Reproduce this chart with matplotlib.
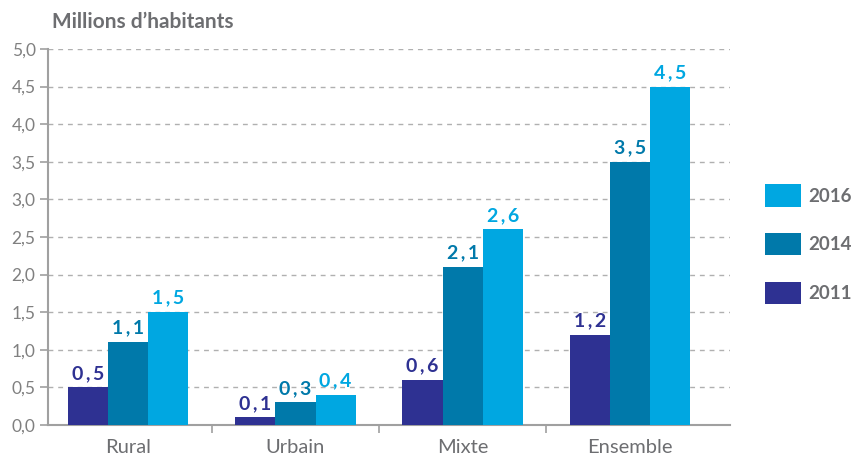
import matplotlib
matplotlib.use('Agg')
import matplotlib.pyplot as plt
from matplotlib.ticker import FuncFormatter, FixedLocator
import numpy as np

# --- DATA ---
categories = ['Rural', 'Urbain', 'Mixte', 'Ensemble']
years = ['2011', '2014', '2016']
values_2011 = [0.5, 0.1, 0.6, 1.2]
values_2014 = [1.1, 0.3, 2.1, 3.5]
values_2016 = [1.5, 0.4, 2.6, 4.5]
y_ticks = [0, 0.5, 1, 1.5, 2, 2.5, 3, 3.5, 4, 4.5, 5]
# ------------

colors = ['#2e3192', '#0079aa', '#00a7e1']
text_grey = '#6d6e71'
axis_grey = '#a0a0a0'

plt.rcParams['font.family'] = ['Lato', 'DejaVu Sans']


def fr(v, sep=','):
    return f"{v:.1f}".replace('.', sep)


fig = plt.figure(figsize=(8.53, 4.57), dpi=100)
ax = fig.add_axes([0.0563, 0.070, 0.7997, 0.823])

x = np.arange(len(categories))
width = 0.24
series = [values_2011, values_2014, values_2016]
bars = []
for i, (vals, col, yr) in enumerate(zip(series, colors, years)):
    b = ax.bar(x + (i - 1) * width, vals, width, color=col, label=yr, zorder=3)
    bars.append(b)
    ax.bar_label(b, labels=[fr(v, '\u2009,\u2009') for v in vals], padding=4,
                 color=col, fontsize=14, fontweight='bold')

ax.set_ylim(0, 5)
ax.set_xlim(-0.48, 3.6)
ax.yaxis.set_major_locator(FixedLocator(y_ticks))
ax.yaxis.set_major_formatter(FuncFormatter(lambda v, p: fr(v)))
ax.grid(axis='y', linestyle=(0, (3.5, 3.5)), color='#b0b0b0', linewidth=1, zorder=0)

ax.set_xticks(x)
ax.set_xticklabels(categories)
ax.set_xticks([0.5, 1.5, 2.5], minor=True)
ax.tick_params(axis='x', which='major', length=0, pad=10, labelsize=14.5, labelcolor=text_grey)
ax.tick_params(axis='x', which='minor', length=6, width=1.2, color=axis_grey)
ax.tick_params(axis='y', length=6, width=1.2, color=axis_grey, labelsize=12.5,
               labelcolor='#808080', pad=3)

for s in ['top', 'right']:
    ax.spines[s].set_visible(False)
for s in ['left', 'bottom']:
    ax.spines[s].set_color(axis_grey)
    ax.spines[s].set_linewidth(1.5)

fig.text(0.061, 0.952, 'Millions d\u2019habitants', fontsize=15, fontweight='bold',
         color=text_grey, va='center', ha='left')

handles = [b.patches[0] for b in bars][::-1]
leg = fig.legend(handles, years[::-1], loc='center left', bbox_to_anchor=(0.897, 0.466),
                 frameon=False, fontsize=13.5, handlelength=1.92, handleheight=1.44,
                 labelspacing=1.41, handletextpad=0.4, borderpad=0, borderaxespad=0)
for t in leg.get_texts():
    t.set_color(text_grey)
    t.set_fontweight('bold')

fig.savefig('out.png', dpi=100)
